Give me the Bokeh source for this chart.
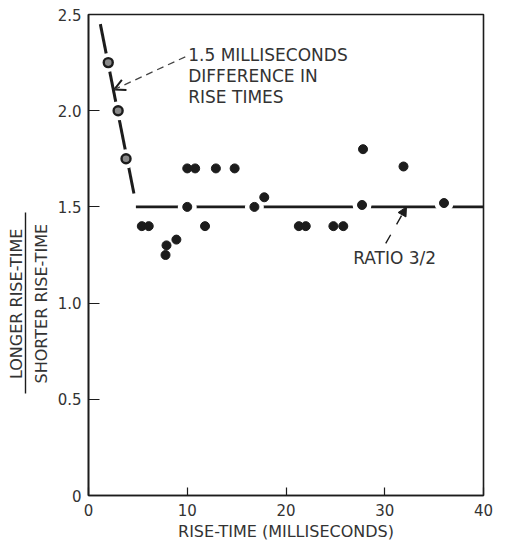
from bokeh.plotting import figure
from bokeh.models import (Label, Arrow, OpenHead, NormalHead, FixedTicker, LinearAxis, Title)
from bokeh.embed import file_html
from bokeh.resources import INLINE

# ---- data ----
early_x = [2.0, 3.0, 3.8]
early_y = [2.25, 2.0, 1.75]

pts_x = [5.4, 6.1, 7.8, 7.9, 8.9, 10.0, 10.8, 10.0, 11.8, 12.9, 14.8, 16.8, 17.8,
         21.3, 22.0, 24.8, 25.8, 27.8, 27.7, 31.9, 36.0]
pts_y = [1.40, 1.40, 1.25, 1.30, 1.33, 1.70, 1.70, 1.50, 1.40, 1.70, 1.70, 1.50, 1.55,
         1.40, 1.40, 1.40, 1.40, 1.80, 1.51, 1.71, 1.52]

steep_x = [1.2, 4.6]
steep_y = [2.45, 1.57]
ratio_x = [4.8, 40.0]
ratio_y = [1.5, 1.5]

x_ticks = [0, 10, 20, 30, 40]
x_tick_labels = ["0", "10", "20", "30", "40"]
y_ticks = [0, 0.5, 1.0, 1.5, 2.0, 2.5]
y_tick_labels = ["0", "0.5", "1.0", "1.5", "2.0", "2.5"]

FONT = "DejaVu Sans"
INK = "#1c1c1c"
TXT = "#333333"

W, H = 493, 543
B_LEFT, B_RIGHT, B_TOP, B_BOTTOM = 88, 10, 14, 45
frame_h = H - B_TOP - B_BOTTOM

p = figure(width=W, height=H, x_range=(0, 40), y_range=(0, 2.5),
           output_backend="svg", toolbar_location=None,
           min_border_left=B_LEFT, min_border_right=B_RIGHT,
           min_border_top=B_TOP, min_border_bottom=B_BOTTOM)
p.background_fill_color = "white"
p.border_fill_color = "white"
p.grid.visible = False
p.outline_line_color = INK
p.outline_line_width = 1.6

for ax in (p.xaxis[0], p.yaxis[0]):
    ax.axis_line_color = INK
    ax.axis_line_width = 1.6
    ax.major_tick_line_color = INK
    ax.major_tick_line_width = 1.2
    ax.major_tick_out = 0
    ax.minor_tick_line_color = None
    ax.major_label_text_font = FONT
    ax.major_label_text_font_size = "15px"
    ax.major_label_text_color = TXT

p.xaxis.ticker = FixedTicker(ticks=x_ticks)
p.yaxis.ticker = FixedTicker(ticks=y_ticks)
p.xaxis.major_label_overrides = {t: l for t, l in zip(x_ticks, x_tick_labels)}
p.yaxis.major_label_overrides = {t: l for t, l in zip(y_ticks, y_tick_labels)}
p.xaxis.major_tick_in = 8
p.yaxis.major_tick_in = 11
p.xaxis.major_label_standoff = 8
p.yaxis.major_label_standoff = 7

p.xaxis.axis_label = "RISE-TIME (MILLISECONDS)"
p.xaxis.axis_label_text_font = FONT
p.xaxis.axis_label_text_font_size = "16px"
p.xaxis.axis_label_text_font_style = "normal"
p.xaxis.axis_label_text_color = TXT
p.xaxis.axis_label_standoff = 3

# ---- y-axis label as a fraction: SHORTER (inner), bar, LONGER (outer) ----
label_center = 1.0            # data value the fraction is centred on
px_from_top = (2.5 - label_center) / 2.5 * frame_h

def ylab(text, width_em, standoff):
    fs = 16
    off = px_from_top - width_em * fs / 2
    return Title(text=text, align="right", offset=off, standoff=standoff,
                 text_font=FONT, text_font_size=f"{fs}px", text_font_style="normal",
                 text_color=TXT)

p.add_layout(ylab("SHORTER RISE-TIME", 10.14, 8), "left")
bar = LinearAxis(ticker=FixedTicker(ticks=[]), bounds=(0.53, 1.47),
                 axis_line_color=INK, axis_line_width=1.4,
                 major_tick_in=0, major_tick_out=0, minor_tick_in=0, minor_tick_out=0,
                 major_label_standoff=0, major_label_text_font_size="1px")
p.add_layout(bar, "left")
p.add_layout(ylab("LONGER RISE-TIME", 9.53, 0), "left")

# fitted lines
p.line(steep_x, steep_y, line_color=INK, line_width=3)
p.line(ratio_x, ratio_y, line_color=INK, line_width=2.6)

# white gaps in the lines around points lying on them
on_x = early_x + [x for x, y in zip(pts_x, pts_y) if abs(y - 1.5) < 0.03]
on_y = early_y + [y for x, y in zip(pts_x, pts_y) if abs(y - 1.5) < 0.03]
p.scatter(on_x, on_y, size=19, fill_color="white", line_color=None)

# points
p.scatter(early_x, early_y, size=9, fill_color="#8a8a8a", line_color=INK, line_width=2.4)
p.scatter(pts_x, pts_y, size=9, fill_color=INK, line_color=INK, line_width=1)

# annotations
for txt, yy in zip(["1.5 MILLISECONDS", "DIFFERENCE IN", "RISE TIMES"], [2.29, 2.18, 2.07]):
    p.add_layout(Label(x=10.1, y=yy, text=txt, text_font=FONT, text_font_size="17px",
                       text_color=TXT, text_baseline="middle", text_align="left"))
p.add_layout(Arrow(x_start=9.8, y_start=2.28, x_end=2.6, y_end=2.11,
                   line_color="#444444", line_width=1.3, line_dash="7 5",
                   end=OpenHead(size=11, line_color=INK, line_width=2)))

p.add_layout(Label(x=26.8, y=1.235, text="RATIO 3/2", text_font=FONT, text_font_size="17px",
                   text_color=TXT, text_baseline="middle", text_align="left"))
p.add_layout(Arrow(x_start=30.1, y_start=1.31, x_end=32.2, y_end=1.50,
                   line_color=INK, line_width=1.4, line_dash="10 12",
                   end=NormalHead(size=9, fill_color=INK, line_color=INK)))

open("out.html", "w").write(file_html(p, INLINE))
